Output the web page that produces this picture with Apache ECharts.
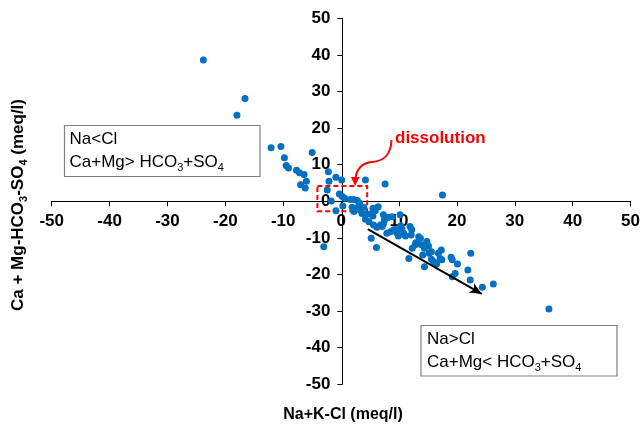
<!DOCTYPE html>
<html>
<head>
<meta charset="utf-8">
<script src="https://cdn.jsdelivr.net/npm/echarts@6/dist/echarts.min.js"></script>
<style>
html,body{margin:0;padding:0;background:#fff;}
#chart{width:643px;height:424px;}
</style>
</head>
<body>
<div id="chart"></div>
<script>
// Na+K-Cl (meq/l)
const naKCl = [
  -23.8,-16.6,-18.0,-12.1,-10.4,-9.8,-9.5,-9.1,-7.7,-7.2,-6.4,-7.0,-6.0,-6.2,-5.0,-3.0,
  -2.2,-0.9,0.1,-2.1,-2.4,-1.7,-0.9,-0.3,0.2,0.6,0.3,1.6,2.2,2.8,1.9,2.2,2.9,3.3,3.9,4.2,3.2,4.4,3.6,5.1,6.4,7.6,
  4.2,4.8,5.5,5.6,6.2,5.2,6.1,5.5,5.9,
  6.8,7.1,7.3,7.5,8.1,7.3,8.8,7.9,8.5,9.4,9.9,10.2,10.8,11.1,11.9,12.2,12.1,11.7,12.3,12.9,13.4,13.7,
  13.9,14.4,14.8,15.1,14.1,14.4,15.2,15.6,16.0,15.6,16.8,17.1,17.4,17.3,17.5,16.5,19.0,19.2,20.1,19.2,19.7,
  21.9,22.3,22.4,24.4,26.3,35.9,10.3,10.5,9.1,9.6,12.8,13.1,
];
// Ca + Mg-HCO3-SO4 (meq/l)
const caMgHco3So4 = [
  38.6,28.1,23.5,14.6,15.0,11.9,9.8,9.1,8.5,7.8,7.3,4.5,5.5,3.6,13.3,-12.4,
  8.1,6.6,5.8,5.5,3.1,0.1,-2.6,2.0,1.3,0.8,-1.3,0.5,0.5,0.2,-1.6,-2.8,-1.6,-2.4,-1.6,5.8,-0.5,-3.5,-3.3,-3.5,-1.5,4.7,
  -4.9,-5.6,-4.0,-6.5,-7.1,-10.1,-12.6,-1.9,-2.6,
  -6.5,-6.9,-6.2,-5.1,-4.4,-3.7,-4.2,-8.7,-8.3,-7.8,-9.5,-3.7,-8.7,-9.5,-6.9,-7.8,-9.2,-15.6,-12.8,-11.3,-9.7,-10.1,
  -11.9,-12.8,-11.0,-12.2,-14.7,-17.9,-14.2,-15.8,-16.5,-13.8,-14.2,-15.6,-16.0,-13.3,1.7,-17.1,-15.3,-16.0,-17.1,-20.6,-19.7,
  -18.8,-21.5,-14.2,-23.5,-22.6,-29.4,-6.7,-7.6,-7.8,-8.6,-11.9,-11.5,
];
const xTicks = [-50,-40,-30,-20,-10,0,10,20,30,40,50];
const yTicks = [-50,-40,-30,-20,-10,0,10,20,30,40,50];
// annotation geometry in data units
const dissolutionBox = [[-4.1, 4.2], [4.5, -2.7]];
const trendArrow = [[4.6, -7.6], [24.3, -25.3]];

const points = naKCl.map((x, i) => [x, caMgHco3So4[i]]);
const FONT = "'Liberation Sans', Arial, sans-serif";

const GRID = {left: 51.7, right: 10, top: 18.3, bottom: 39.7};
const W = 643, H = 424;
const plotW = W - GRID.left - GRID.right, plotH = H - GRID.top - GRID.bottom;
const xMin = xTicks[0], xMax = xTicks[xTicks.length - 1];
const yMin = yTicks[0], yMax = yTicks[yTicks.length - 1];
// axes cross at zero: shift each axis from the grid edge to the zero line
const yAxisOffset = -((0 - xMin) / (xMax - xMin)) * plotW;
const xAxisOffset = -((0 - yMin) / (yMax - yMin)) * plotH;

const chart = echarts.init(document.getElementById('chart'), null, {renderer: 'canvas'});
chart.setOption({
  animation: false,
  backgroundColor: '#ffffff',
  grid: GRID,
  xAxis: {
    type: 'value', min: xMin, max: xMax, interval: 10,
    position: 'bottom', offset: xAxisOffset,
    axisLine: {onZero: false, lineStyle: {color: '#000', width: 1}},
    axisTick: {show: true, length: 5, lineStyle: {color: '#000'}},
    axisLabel: {color: '#000', fontWeight: 'bold', fontSize: 17, fontFamily: FONT, margin: 12},
    splitLine: {show: false}
  },
  yAxis: {
    type: 'value', min: yMin, max: yMax, interval: 10,
    position: 'left', offset: yAxisOffset,
    axisLine: {onZero: false, lineStyle: {color: '#000', width: 1}},
    axisTick: {show: true, length: 5, lineStyle: {color: '#000'}},
    axisLabel: {color: '#000', fontWeight: 'bold', fontSize: 17, fontFamily: FONT, margin: 12},
    splitLine: {show: false}
  },
  series: [{
    type: 'scatter',
    data: points,
    symbol: 'circle',
    symbolSize: 7,
    itemStyle: {color: '#0070C0', opacity: 1},
    z: 3,
    markArea: {
      silent: true,
      itemStyle: {color: 'rgba(0,0,0,0)', borderColor: '#FF0000', borderWidth: 2, borderType: [5, 3]},
      data: [[{coord: dissolutionBox[0]}, {coord: dissolutionBox[1]}]]
    },
    markLine: {
      silent: true,
      symbol: ['none', 'arrow'],
      symbolSize: [8, 12],
      label: {show: false},
      lineStyle: {color: '#000', width: 2, type: 'solid'},
      data: [[{coord: trendArrow[0]}, {coord: trendArrow[1]}]]
    }
  }],
  graphic: [
    {type: 'rect', shape: {x: 64.5, y: 125.5, width: 195.5, height: 51},
     style: {fill: '#fff', stroke: '#808080', lineWidth: 1.2}, z: 10},
    {type: 'text', x: 69.5, y: 139, z: 11,
     style: {text: 'Na<Cl', font: '17px ' + FONT, fill: '#000', verticalAlign: 'middle'}},
    {type: 'text', x: 69.5, y: 162, z: 11,
     style: {text: 'Ca+Mg> HCO{s|3}+SO{s|4}', font: '17px ' + FONT, fill: '#000', verticalAlign: 'middle',
       lineHeight: 22, rich: {s: {fontSize: 11, fontFamily: FONT, verticalAlign: 'bottom', lineHeight: 11, fill: '#000'}}}},
    {type: 'rect', shape: {x: 421, y: 325.5, width: 196, height: 50.5},
     style: {fill: '#fff', stroke: '#808080', lineWidth: 1.2}, z: 10},
    {type: 'text', x: 427, y: 339, z: 11,
     style: {text: 'Na>Cl', font: '17px ' + FONT, fill: '#000', verticalAlign: 'middle'}},
    {type: 'text', x: 427, y: 362, z: 11,
     style: {text: 'Ca+Mg< HCO{s|3}+SO{s|4}', font: '17px ' + FONT, fill: '#000', verticalAlign: 'middle',
       lineHeight: 22, rich: {s: {fontSize: 11, fontFamily: FONT, verticalAlign: 'bottom', lineHeight: 11, fill: '#000'}}}},
    {type: 'text', x: 395, y: 138, z: 11,
     style: {text: 'dissolution', font: 'bold 17px ' + FONT, fill: '#FF0000', verticalAlign: 'middle'}},
    {type: 'bezierCurve', z: 11,
     shape: {x1: 391.5, y1: 140, cpx1: 391, cpy1: 156, cpx2: 383, cpy2: 161, x2: 372, y2: 162},
     style: {fill: null, stroke: '#FF0000', lineWidth: 2}},
    {type: 'bezierCurve', z: 11,
     shape: {x1: 372, y1: 162, cpx1: 362, cpy1: 163, cpx2: 357, cpy2: 168, x2: 355.5, y2: 178},
     style: {fill: null, stroke: '#FF0000', lineWidth: 2}},
    {type: 'polygon', z: 11, shape: {points: [[351, 177], [359.5, 177], [355, 186]]},
     style: {fill: '#FF0000'}},
    {type: 'text', x: 343, y: 415, z: 11,
     style: {text: 'Na+K-Cl (meq/l)', font: 'bold 16px ' + FONT, fill: '#000', align: 'center', verticalAlign: 'middle'}},
    {type: 'text', x: 18, y: 205, rotation: Math.PI / 2, z: 11,
     style: {text: 'Ca + Mg-HCO{s|3}-SO{s|4} (meq/l)', font: 'bold 17px ' + FONT, fill: '#000',
       align: 'center', verticalAlign: 'middle', lineHeight: 22,
       rich: {s: {fontSize: 11, fontWeight: 'bold', fontFamily: FONT, verticalAlign: 'bottom', lineHeight: 11, fill: '#000'}}}}
  ]
});
</script>
</body>
</html>
